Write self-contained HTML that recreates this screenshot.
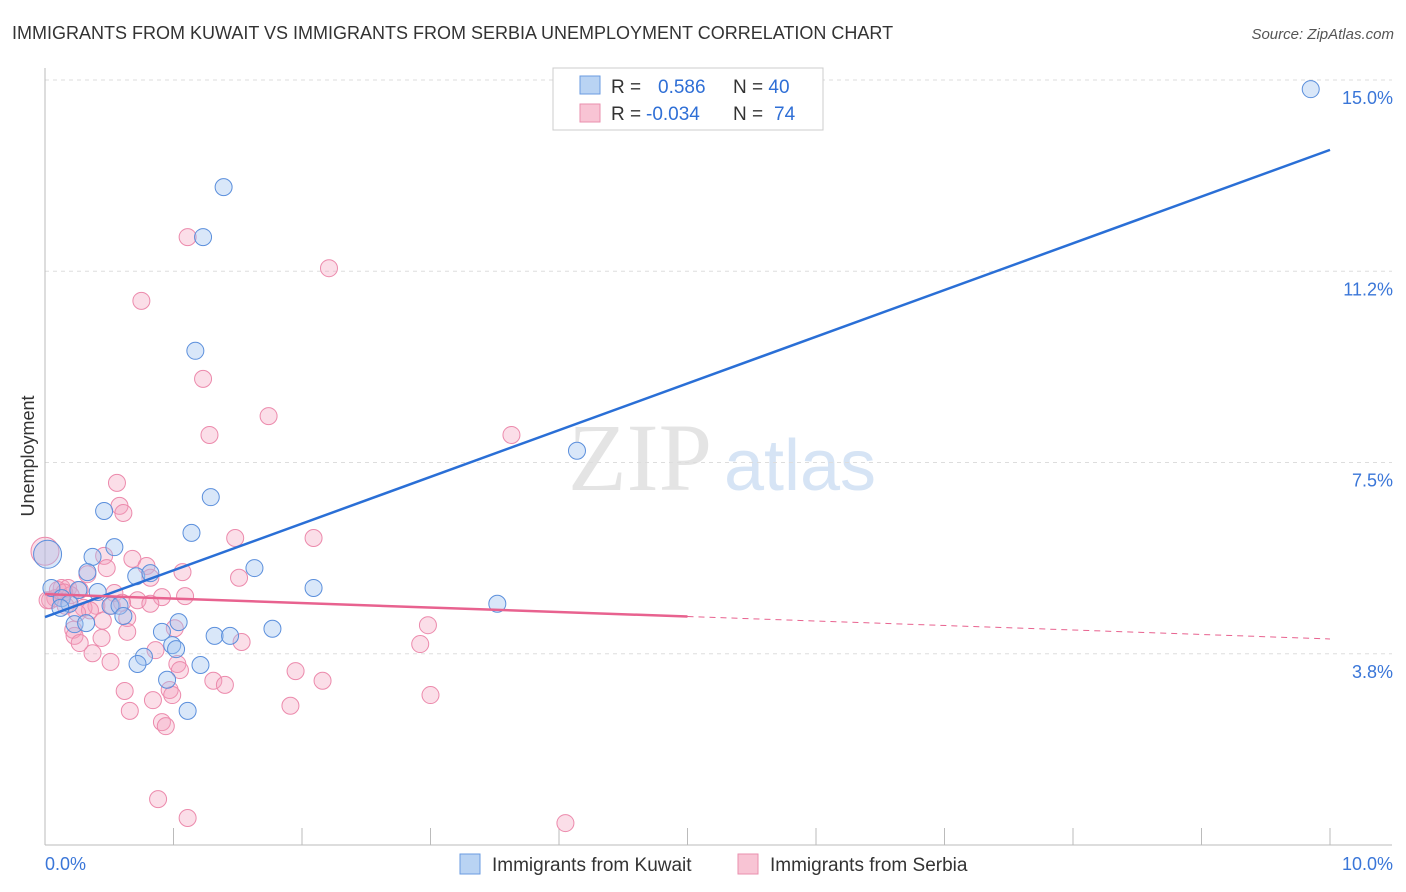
<!DOCTYPE html>
<html><head><meta charset="utf-8"><style>
body{margin:0;background:#fff;font-family:"Liberation Sans",sans-serif;}
svg{display:block}
</style></head><body>
<svg id="chart" width="1406" height="892">
<text x="12" y="39" font-size="18" fill="#333">IMMIGRANTS FROM KUWAIT VS IMMIGRANTS FROM SERBIA UNEMPLOYMENT CORRELATION CHART</text>
<text x="1394" y="39" font-size="15" fill="#555" font-style="italic" text-anchor="end">Source: ZipAtlas.com</text>
<text x="640" y="490" font-size="96" fill="#e4e4e4" font-family="Liberation Serif" text-anchor="middle">ZIP</text>
<text x="800" y="490" font-size="72" fill="#d6e4f5" text-anchor="middle">atlas</text>
<text x="34" y="456" font-size="18" fill="#333" text-anchor="middle" transform="rotate(-90 34 456)">Unemployment</text>
<g id="grid"></g><g id="pts"></g><g id="lines"></g>
<g>
<rect x="553" y="68" width="270" height="62" fill="#fff" stroke="#ccc"/>
<rect x="580" y="76" width="20" height="18" fill="#b9d3f3" stroke="#6a9be0"/>
<rect x="580" y="104" width="20" height="18" fill="#f8c4d4" stroke="#ea8fae"/>
<text x="611" y="93" font-size="19" fill="#333">R = <tspan fill="#2f6fd6" x="658">0.586</tspan><tspan x="733" fill="#333">N = </tspan><tspan fill="#2f6fd6">40</tspan></text>
<text x="611" y="120" font-size="19" fill="#333">R = <tspan fill="#2f6fd6" x="646">-0.034</tspan><tspan x="733" fill="#333">N = </tspan><tspan fill="#2f6fd6" x="774">74</tspan></text>
</g>
<g>
<rect x="460" y="854" width="20" height="20" fill="#b9d3f3" stroke="#6a9be0"/>
<text x="492" y="871" font-size="19" fill="#333">Immigrants from Kuwait</text>
<rect x="738" y="854" width="20" height="20" fill="#f8c4d4" stroke="#ea8fae"/>
<text x="770" y="871" font-size="19" fill="#333">Immigrants from Serbia</text>
</g>
</svg>
<script>
const xTicks=[0,1,2,3,4,5,6,7,8,9,10];
const yTicks=[3.75,7.5,11.25,15];
const yTickLabels=["3.8%","7.5%","11.2%","15.0%"];
const kuwaitX=[9.85,1.39,1.23,1.17,4.14,1.29,0.46,1.14,0.54,0.37,1.63,0.71,0.82,0.33,2.09,3.52,0.05,0.41,0.26,0.13,0.19,0.51,0.58,0.61,1.04,0.23,0.32,0.91,1.77,1.32,1.44,0.99,1.02,0.77,0.72,1.21,0.95,1.11,0.02,0.12];
const kuwaitY=[14.82,12.9,11.92,9.69,7.73,6.82,6.55,6.12,5.84,5.65,5.43,5.27,5.33,5.35,5.04,4.73,5.04,4.96,5.0,4.84,4.73,4.69,4.69,4.49,4.37,4.33,4.35,4.18,4.24,4.1,4.1,3.92,3.84,3.69,3.55,3.53,3.24,2.63,5.7,4.65];
const serbiaX=[1.11,2.21,0.75,1.23,1.74,1.28,3.63,0.56,0.58,0.61,1.48,2.09,0.0,0.46,0.68,0.79,0.48,1.07,0.33,0.82,1.51,0.13,0.18,0.27,0.54,0.91,1.09,0.72,0.82,0.40,0.52,0.08,0.04,0.16,0.30,0.64,2.98,0.22,1.01,0.23,0.44,0.64,1.53,0.86,0.37,2.92,0.27,0.51,1.03,1.05,1.95,1.31,1.40,2.16,0.62,0.97,3.00,0.84,0.99,0.66,1.91,0.91,0.94,0.88,1.11,4.05,0.02,0.10,0.2,0.35,0.6,0.45,0.15,0.25];
const serbiaY=[11.92,11.31,10.67,9.14,8.41,8.04,8.04,7.10,6.65,6.51,6.02,6.02,5.76,5.67,5.61,5.47,5.43,5.35,5.31,5.24,5.24,5.04,5.04,5.0,4.94,4.86,4.88,4.80,4.73,4.69,4.69,4.84,4.80,4.69,4.65,4.45,4.31,4.22,4.25,4.10,4.06,4.18,3.98,3.82,3.76,3.94,3.96,3.59,3.55,3.43,3.41,3.22,3.14,3.22,3.02,3.04,2.94,2.84,2.94,2.63,2.73,2.41,2.33,0.90,0.53,0.43,4.80,5.00,4.9,4.6,4.75,4.4,4.95,4.55];
const kuwaitTrend=[4.47,13.63];
const serbiaTrend=[4.92,4.04];
const NS="http://www.w3.org/2000/svg";
const X=v=>45+v*128.5, Y=v=>80+(15-v)*51;
function mk(tag,attrs,parent){const e=document.createElementNS(NS,tag);for(const k in attrs)e.setAttribute(k,attrs[k]);parent.appendChild(e);return e;}
const grid=document.getElementById('grid'),pts=document.getElementById('pts'),lines=document.getElementById('lines');
yTicks.forEach((t,i)=>{
 const l=mk('line',{x1:45,x2:1392,y1:Y(t),y2:Y(t),stroke:'#ddd','stroke-dasharray':'4,4'},grid);
 
 
 const tx=mk('text',{x:1393,y:Y(t)+24,'font-size':18,fill:'#3a76d8','text-anchor':'end'},grid);
 tx.textContent=yTickLabels[i];
 
 
});
const ax=mk('line',{x1:45,x2:1392,y1:845,y2:845,stroke:'#bbb'},grid);


const ay=mk('line',{x1:45,x2:45,y1:68,y2:845,stroke:'#bbb'},grid);


xTicks.forEach(t=>{
 const l=mk('line',{x1:X(t),x2:X(t),y1:828,y2:845,stroke:'#bbb'},grid);
 
 
});
[[0,'0.0%','start',45],[10,'10.0%','end',1393]].forEach(a=>{
 const tx=mk('text',{x:a[3],y:870,'font-size':18,fill:'#3a76d8','text-anchor':a[2]},grid);
 tx.textContent=a[1];
 
 
});
serbiaX.forEach((v,i)=>{
 const c=mk('circle',{cx:X(v),cy:Y(serbiaY[i]),r:i==12?14:8.5,fill:'rgba(244,160,190,0.35)',stroke:'#ec8aac','stroke-width':1},pts);
 
 
});
kuwaitX.forEach((v,i)=>{
 const c=mk('circle',{cx:X(v),cy:Y(kuwaitY[i]),r:i==38?14:8.5,fill:'rgba(160,196,240,0.4)',stroke:'#5b8fdc','stroke-width':1},pts);
 
 
});
const bl=mk('line',{x1:X(0),y1:Y(kuwaitTrend[0]),x2:X(10),y2:Y(kuwaitTrend[1]),stroke:'#2a6fd6','stroke-width':2.5},lines);


const sMid=serbiaTrend[0]+(serbiaTrend[1]-serbiaTrend[0])*0.5;
const pl=mk('line',{x1:X(0),y1:Y(serbiaTrend[0]),x2:X(5),y2:Y(sMid),stroke:'#e8628f','stroke-width':2.5},lines);


const pd=mk('line',{x1:X(5),y1:Y(sMid),x2:X(10),y2:Y(serbiaTrend[1]),stroke:'#e8628f','stroke-width':1,'stroke-dasharray':'6,5'},lines);


</script>
</body></html>
